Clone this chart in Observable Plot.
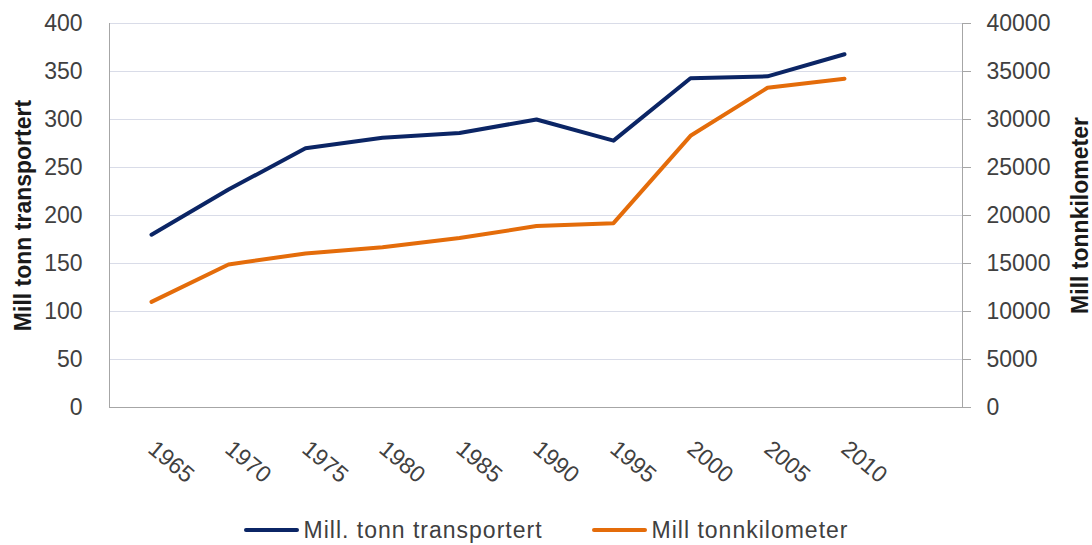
<!DOCTYPE html>
<html><head><meta charset="utf-8">
<script src="https://cdn.jsdelivr.net/npm/d3@7"></script>
<script src="https://cdn.jsdelivr.net/npm/@observablehq/plot@0.6"></script>
<style>
body{margin:0;background:#fff;font-family:"Liberation Sans",Arial,sans-serif;}
#chart svg{display:block}
.legend{height:48px;box-sizing:border-box;padding-top:18px;display:flex;justify-content:center;align-items:center;font-size:23px;letter-spacing:1px;color:#404040;}
.item{display:flex;align-items:center;}
.sw{width:55px;height:4px;border-radius:2px;margin-right:5px;}
</style></head><body>
<div id="chart"></div>
<script>
const years = ["1965","1970","1975","1980","1985","1990","1995","2000","2005","2010"];
const tonnTransportert = [180, 227, 270, 281, 286, 300, 278, 343, 345, 368];
const tonnKilometer = [11000, 14900, 16050, 16700, 17650, 18900, 19200, 28300, 33300, 34250];
const leftTicks = [0, 50, 100, 150, 200, 250, 300, 350, 400];
const rightTicks = [0, 5000, 10000, 15000, 20000, 25000, 30000, 35000, 40000];
const seriesNames = ["Mill. tonn transportert", "Mill tonnkilometer"];
const axisTitles = ["Mill tonn transportert", "Mill tonnkilometer"];
const colors = ["#0b2565", "#e46c0a"];
const ratio = 100;

const rows = years.flatMap((y, i) => [
  {year: y, value: tonnTransportert[i], series: seriesNames[0]},
  {year: y, value: tonnKilometer[i] / ratio, series: seriesNames[1]}
]);

const chart = Plot.plot({
  width: 1092, height: 497,
  marginLeft: 109, marginRight: 130, marginTop: 23, marginBottom: 90,
  style: {fontFamily: "'Liberation Sans', Arial, sans-serif", fontSize: "23px", color: "#404040", background: "#fff"},
  x: {type: "point", domain: [...years, ""], padding: 0.5},
  y: {domain: [0, 400]},
  color: {domain: seriesNames, range: colors},
  marks: [
    Plot.gridY(leftTicks, {stroke: "#d9dce8", strokeOpacity: 1}),
    Plot.frame({anchor: "left", stroke: "#a6a6a6"}),
    Plot.frame({anchor: "right", stroke: "#a6a6a6"}),
    Plot.frame({anchor: "bottom", stroke: "#a6a6a6"}),
    Plot.axisY(leftTicks, {anchor: "left", tickSize: 0, tickPadding: 27, label: null, fill: "#404040"}),
    Plot.axisY(rightTicks.map(v => v / ratio), {anchor: "right", tickSize: 8, tickPadding: 16, label: null,
      stroke: "#a6a6a6", fill: "#404040", tickFormat: d => String(Math.round(d * ratio))}),
    Plot.axisX(years, {tickSize: 0, tickRotate: 40, tickPadding: 38, label: null, fill: "#404040"}),
    Plot.text([axisTitles[0]], {frameAnchor: "left", rotate: -90, dx: -86, textAnchor: "middle", fontWeight: "bold", fontSize: 23, fill: "#1a1a1a", lineAnchor: "middle", text: d => d}),
    Plot.text([axisTitles[1]], {frameAnchor: "right", rotate: -90, dx: 118, textAnchor: "middle", fontWeight: "bold", fontSize: 23, fill: "#1a1a1a", lineAnchor: "middle", text: d => d}),
    Plot.line(rows, {x: "year", y: "value", stroke: "series", strokeWidth: 4, strokeLinejoin: "round", strokeLinecap: "round"})
  ]
});
document.getElementById("chart").appendChild(chart);

const legend = document.createElement("div");
legend.className = "legend";
seriesNames.forEach((name, i) => {
  const item = document.createElement("div");
  item.className = "item";
  if (i > 0) item.style.marginLeft = "49px";
  const sw = document.createElement("span");
  sw.className = "sw";
  sw.style.background = colors[i];
  const label = document.createElement("span");
  label.textContent = name;
  item.appendChild(sw);
  item.appendChild(label);
  legend.appendChild(item);
});
document.body.appendChild(legend);
</script>
</body></html>
